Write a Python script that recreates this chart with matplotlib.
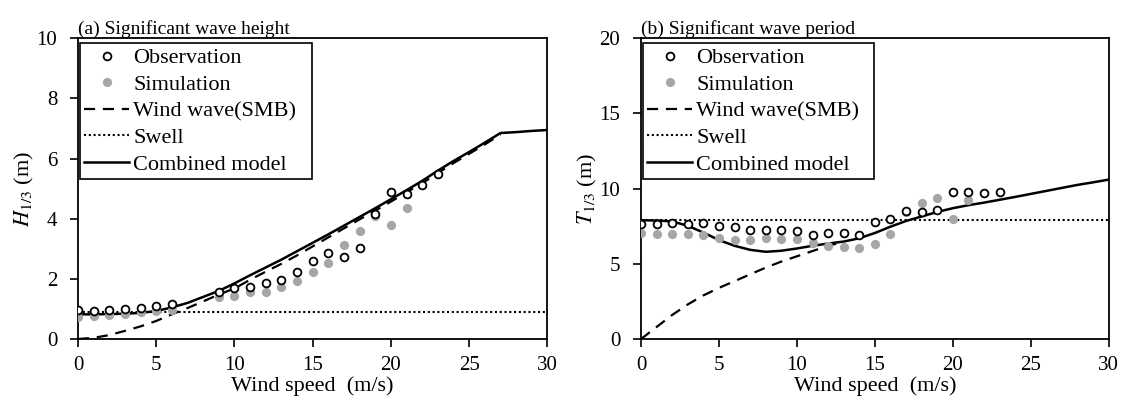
import numpy as np
import matplotlib
matplotlib.use("Agg")
import matplotlib.pyplot as plt

plt.rcParams['font.family'] = ['Liberation Serif', 'DejaVu Serif']
plt.rcParams['mathtext.fontset'] = 'stix'

# ---- (a) significant wave height ----
obs_x_a = [0, 1, 2, 3, 4, 5, 6, 9, 10, 11, 12, 13, 14, 15, 16, 17, 18, 19, 20, 21, 22, 23]
obs_h = [0.97, 0.94, 0.98, 1.0, 1.03, 1.1, 1.17, 1.55, 1.71, 1.73, 1.87, 1.97, 2.22, 2.58, 2.85, 2.74, 3.04,
         4.17, 4.89, 4.83, 5.13, 5.48]
sim_x_a = [0, 1, 2, 3, 4, 5, 6, 9, 10, 11, 12, 13, 14, 15, 16, 17, 18, 19, 20, 21]
sim_h = [0.72, 0.78, 0.8, 0.83, 0.89, 0.93, 0.97, 1.39, 1.42, 1.55, 1.55, 1.72, 1.94, 2.22, 2.53, 3.11, 3.59,
         4.08, 3.78, 4.37]
smb_x_a = np.arange(0, 28)
smb_h = [0.0, 0.04, 0.13, 0.27, 0.42, 0.6, 0.82, 1.03, 1.25, 1.48, 1.68, 1.97, 2.24, 2.5, 2.78, 3.08, 3.38,
         3.68, 3.98, 4.27, 4.57, 4.88, 5.18, 5.52, 5.85, 6.16, 6.47, 6.8]
comb_x_a = np.arange(0, 31)
comb_h = [0.82, 0.82, 0.83, 0.84, 0.87, 0.93, 1.05, 1.2, 1.4, 1.6, 1.85, 2.12, 2.38, 2.64, 2.92, 3.2, 3.48,
          3.77, 4.06, 4.35, 4.65, 4.95, 5.26, 5.6, 5.92, 6.22, 6.53, 6.85, 6.88, 6.92, 6.95]
swell_h = 0.9

# ---- (b) significant wave period ----
obs_x_b = np.arange(0, 24)
obs_t = [7.68, 7.64, 7.7, 7.64, 7.72, 7.53, 7.42, 7.26, 7.24, 7.24, 7.2, 6.91, 7.05, 7.02, 6.91, 7.78, 7.95,
         8.52, 8.43, 8.57, 9.81, 9.75, 9.7, 9.81]
sim_x_b = np.arange(0, 22)
sim_t = [7.02, 6.98, 6.98, 6.98, 6.9, 6.75, 6.58, 6.58, 6.71, 6.64, 6.68, 6.4, 6.2, 6.1, 6.05, 6.34, 6.96,
         8.45, 9.03, 9.41, 8.0, 9.25]
smb_x_b = np.arange(0, 14)
smb_t = [0.0, 0.8, 1.6, 2.3, 2.9, 3.4, 3.85, 4.3, 4.75, 5.15, 5.5, 5.85, 6.2, 6.46]
comb_x_b = np.arange(0, 31)
comb_t = [7.9, 7.88, 7.82, 7.53, 7.08, 6.58, 6.2, 5.93, 5.8, 5.87, 6.02, 6.2, 6.35, 6.48, 6.7, 7.05, 7.47,
          7.85, 8.15, 8.45, 8.7, 8.9, 9.07, 9.26, 9.45, 9.65, 9.85, 10.05, 10.25, 10.42, 10.6]
swell_t = 7.9

fig = plt.figure(figsize=(11.25, 4.01), dpi=100)
ax1 = fig.add_axes([0.0693, 0.1546, 0.4173, 0.7499])
ax2 = fig.add_axes([0.5698, 0.1546, 0.4157, 0.7499])

gray = '#a6a6a6'


def draw(ax, ox, oy, sx, sy, wx, wy, cx, cy, swell):
    ax.plot(ox, oy, 'o', mfc='white', mec='black', mew=1.3, ms=5.6, ls='none', label='Observation', zorder=4)
    ax.plot(sx, sy, 'o', mfc=gray, mec=gray, ms=5.6, ls='none', label='Simulation', zorder=3)
    ax.plot(wx, wy, color='black', ls=(0, (5, 3.5)), lw=1.6, label='Wind wave(SMB)')
    ax.axhline(swell, color='black', ls=(0, (1, 1.3)), lw=1.5, label='Swell')
    ax.plot(cx, cy, color='black', lw=1.8, label='Combined model')
    ax.set_xlim(0, 30)
    ax.set_xticks(np.arange(0, 31, 5))
    ax.tick_params(direction='out', length=6, width=1.2, labelsize=15, top=False, right=False)
    ax.tick_params(axis='x', pad=6)
    ax.tick_params(axis='y', pad=9)
    for s in ax.spines.values():
        s.set_linewidth(1.3)
    ax.set_xlabel('Wind speed  (m/s)', fontsize=16, labelpad=1)
    leg = ax.legend(loc='upper left', bbox_to_anchor=(0.004, 0.0, 0.495, 0.983), mode='expand',
                    fontsize=16, frameon=True, fancybox=False,
                    edgecolor='black', framealpha=1, handlelength=2.0, handletextpad=0.2,
                    labelspacing=0.27, borderpad=0.2, borderaxespad=0.0)
    leg.get_frame().set_linewidth(1.2)


draw(ax1, obs_x_a, obs_h, sim_x_a, sim_h, smb_x_a, smb_h, comb_x_a, comb_h, swell_h)
ax1.set_ylim(0, 10)
ax1.set_yticks(np.arange(0, 11, 2))
ax1.set_ylabel(r'$H_{1/3}$ (m)', fontsize=16, labelpad=0)
ax1.set_title('(a) Significant wave height', loc='left', fontsize=14, pad=3)

draw(ax2, obs_x_b, obs_t, sim_x_b, sim_t, smb_x_b, smb_t, comb_x_b, comb_t, swell_t)
ax2.set_ylim(0, 20)
ax2.set_yticks(np.arange(0, 21, 5))
ax2.set_ylabel(r'$T_{1/3}$ (m)', fontsize=16, labelpad=0)
ax2.set_title('(b) Significant wave period', loc='left', fontsize=14, pad=3)

fig.savefig('out.png', dpi=100)
